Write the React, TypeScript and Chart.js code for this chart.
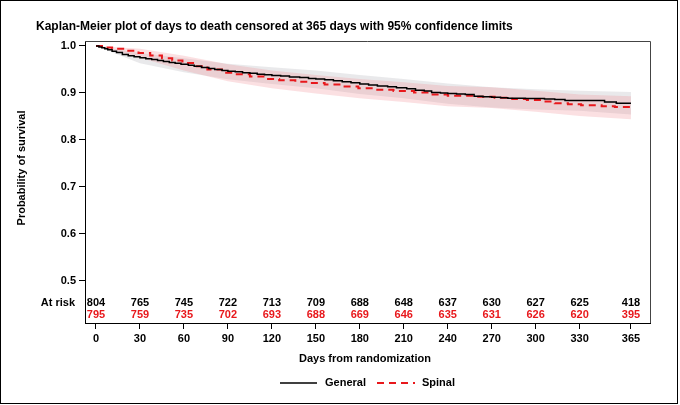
import React, { useEffect, useRef } from 'react';
import { Chart, registerables } from 'chart.js';

Chart.register(...registerables);

const FONT = '"Liberation Sans", Arial, Helvetica, sans-serif';
const RED = 'rgb(232, 24, 28)';

// Kaplan-Meier step points (day, survival after the step)
const generalDays = [0, 2, 4, 6, 8, 11, 14, 18, 22, 26, 30, 34, 38, 42, 46, 50, 54, 58, 63, 67, 72, 77, 81, 86, 90, 95, 100, 105, 110, 115, 120, 126, 132, 139, 145, 150, 156, 162, 168, 174, 180, 186, 192, 199, 205, 212, 218, 224, 229, 235, 240, 246, 252, 258, 264, 270, 276, 281, 293, 306, 313, 320, 347, 355, 365];
const generalSurv = [1.0, 0.998, 0.996, 0.994, 0.992, 0.989, 0.986, 0.982, 0.979, 0.977, 0.975, 0.973, 0.971, 0.969, 0.967, 0.965, 0.963, 0.961, 0.959, 0.957, 0.954, 0.952, 0.95, 0.948, 0.946, 0.945, 0.943, 0.942, 0.94, 0.939, 0.937, 0.936, 0.934, 0.933, 0.931, 0.93, 0.928, 0.926, 0.924, 0.922, 0.919, 0.917, 0.915, 0.913, 0.911, 0.909, 0.906, 0.904, 0.901, 0.9, 0.899, 0.898, 0.897, 0.893, 0.892, 0.891, 0.89, 0.889, 0.888, 0.887, 0.886, 0.884, 0.881, 0.878, 0.878];

const spinalDays = [0, 5, 11, 20, 29, 37, 45, 52, 59, 67, 76, 86, 95, 105, 115, 125, 136, 146, 156, 168, 179, 190, 203, 217, 228, 240, 260, 272, 284, 294, 304, 313, 322, 331, 345, 354, 365];
const spinalSurv = [1.0, 0.997, 0.994, 0.99, 0.985, 0.98, 0.974, 0.969, 0.964, 0.957, 0.95, 0.943, 0.94, 0.935, 0.93, 0.927, 0.924, 0.921, 0.918, 0.914, 0.91, 0.907, 0.904, 0.901, 0.897, 0.894, 0.892, 0.89, 0.887, 0.885, 0.882, 0.878, 0.876, 0.874, 0.872, 0.87, 0.869];

// 95% confidence limits
const bandDays = [0, 30, 60, 90, 120, 150, 180, 210, 240, 270, 300, 330, 365];
const generalLower = [1.0, 0.963, 0.944, 0.929, 0.919, 0.91, 0.898, 0.889, 0.877, 0.869, 0.865, 0.862, 0.854];
const generalUpper = [1.0, 0.985, 0.974, 0.962, 0.955, 0.948, 0.938, 0.93, 0.92, 0.912, 0.908, 0.905, 0.902];
const spinalLower = [1.0, 0.975, 0.948, 0.925, 0.91, 0.899, 0.889, 0.881, 0.872, 0.868, 0.86, 0.851, 0.844];
const spinalUpper = [1.0, 0.994, 0.979, 0.961, 0.948, 0.938, 0.93, 0.923, 0.915, 0.912, 0.905, 0.897, 0.893];

// number at risk table
const riskDays = [0, 30, 60, 90, 120, 150, 180, 210, 240, 270, 300, 330, 365];
const generalAtRisk = [804, 765, 745, 722, 713, 709, 688, 648, 637, 630, 627, 625, 418];
const spinalAtRisk = [795, 759, 735, 702, 693, 688, 669, 646, 635, 631, 626, 620, 395];

const yTicks = [0.5, 0.6, 0.7, 0.8, 0.9, 1.0];

const pts = (xs: number[], ys: number[]) => xs.map((x, i) => ({ x, y: ys[i] }));

const decorations = {
  id: 'decorations',
  afterDraw(chart: any) {
    const { ctx, chartArea: a, scales } = chart;
    const x = scales.x;
    ctx.save();

    // outer frame
    ctx.strokeStyle = '#000';
    ctx.lineWidth = 1;
    ctx.strokeRect(0.5, 0.5, 677, 403);

    // plot frame top/right
    ctx.strokeStyle = '#444';
    ctx.beginPath();
    ctx.moveTo(a.left, a.top + 0.5);
    ctx.lineTo(a.right + 0.5, a.top + 0.5);
    ctx.lineTo(a.right + 0.5, a.bottom);
    ctx.stroke();

    ctx.fillStyle = '#000';
    ctx.textBaseline = 'middle';

    // title
    ctx.font = `bold 12px ${FONT}`;
    ctx.textAlign = 'left';
    ctx.fillText('Kaplan-Meier plot of days to death censored at 365 days with 95% confidence limits', 36, 27);

    // axis titles
    ctx.font = `bold 11px ${FONT}`;
    ctx.textAlign = 'center';
    ctx.fillText('Days from randomization', 365, 359);
    ctx.save();
    ctx.translate(22, 168);
    ctx.rotate(-Math.PI / 2);
    ctx.fillText('Probability of survival', 0, 0);
    ctx.restore();

    // at risk table
    ctx.textAlign = 'right';
    ctx.fillText('At risk', 75, a.bottom - 20);
    ctx.textAlign = 'center';
    riskDays.forEach((d, i) => {
      const px = x.getPixelForValue(d);
      ctx.fillStyle = '#000';
      ctx.fillText(String(generalAtRisk[i]), px, a.bottom - 20);
      ctx.fillStyle = RED;
      ctx.fillText(String(spinalAtRisk[i]), px, a.bottom - 8);
    });

    // legend
    const ly = 383;
    ctx.strokeStyle = '#000';
    ctx.lineWidth = 1.5;
    ctx.beginPath();
    ctx.moveTo(280, ly);
    ctx.lineTo(317, ly);
    ctx.stroke();
    ctx.strokeStyle = RED;
    ctx.lineWidth = 2;
    ctx.setLineDash([7, 5]);
    ctx.beginPath();
    ctx.moveTo(377, ly);
    ctx.lineTo(415, ly);
    ctx.stroke();
    ctx.setLineDash([]);
    ctx.fillStyle = '#000';
    ctx.textAlign = 'left';
    ctx.fillText('General', 325, ly);
    ctx.fillText('Spinal', 422, ly);

    ctx.restore();
  },
};

export default function App() {
  const canvasRef = useRef<HTMLCanvasElement>(null);

  useEffect(() => {
    document.body.style.margin = '0';
    if (!canvasRef.current) return;

    const tickFont = { family: FONT, size: 11, weight: 'bold' as const };

    const chart = new Chart(canvasRef.current, {
      type: 'line',
      data: {
        datasets: [
          {
            label: 'General',
            data: pts(generalDays, generalSurv),
            borderColor: '#000',
            borderWidth: 1.5,
            stepped: true,
            pointRadius: 0,
            fill: false,
            order: 0,
          },
          {
            label: 'Spinal',
            data: pts(spinalDays, spinalSurv),
            borderColor: RED,
            borderWidth: 2,
            borderDash: [7, 5],
            stepped: true,
            pointRadius: 0,
            fill: false,
            order: 1,
          },
          {
            label: 'General lower',
            data: pts(bandDays, generalLower),
            borderWidth: 0,
            pointRadius: 0,
            fill: false,
            order: 4,
          },
          {
            label: 'General upper',
            data: pts(bandDays, generalUpper),
            borderWidth: 0,
            pointRadius: 0,
            fill: '-1',
            backgroundColor: 'rgba(200, 200, 204, 0.4)',
            order: 4,
          },
          {
            label: 'Spinal lower',
            data: pts(bandDays, spinalLower),
            borderWidth: 0,
            pointRadius: 0,
            fill: false,
            order: 3,
          },
          {
            label: 'Spinal upper',
            data: pts(bandDays, spinalUpper),
            borderWidth: 0,
            pointRadius: 0,
            fill: '-1',
            backgroundColor: 'rgba(240, 130, 140, 0.25)',
            order: 3,
          },
        ],
      },
      options: {
        animation: false,
        responsive: true,
        maintainAspectRatio: false,
        layout: { padding: { top: 41, right: 30, left: 0, bottom: 0 } },
        plugins: {
          legend: { display: false },
          title: { display: false },
          tooltip: { enabled: false },
        },
        scales: {
          x: {
            type: 'linear',
            min: -7.5,
            max: 378,
            afterBuildTicks: (s: any) => {
              s.ticks = riskDays.map((v) => ({ value: v }));
            },
            afterFit: (s: any) => {
              s.height = 82;
            },
            ticks: { font: tickFont, color: '#000', padding: 3, autoSkip: false, maxRotation: 0 },
            grid: { drawOnChartArea: false, drawTicks: true, tickLength: 6, color: '#000' },
            border: { display: true, color: '#000', width: 1 },
          },
          y: {
            min: 0.4106,
            max: 1.0106,
            afterBuildTicks: (s: any) => {
              s.ticks = yTicks.map((v) => ({ value: v }));
            },
            afterFit: (s: any) => {
              s.width = 85;
            },
            ticks: {
              font: tickFont,
              color: '#000',
              padding: 3,
              callback: (v: any) => Number(v).toFixed(1),
            },
            grid: { drawOnChartArea: false, drawTicks: true, tickLength: 6, color: '#000' },
            border: { display: true, color: '#000', width: 1 },
          },
        },
      },
      plugins: [decorations],
    });

    return () => {
      chart.destroy();
    };
  }, []);

  return (
    <div style={{ width: 680, height: 405, position: 'relative', background: '#fff' }}>
      <canvas ref={canvasRef} />
    </div>
  );
}
